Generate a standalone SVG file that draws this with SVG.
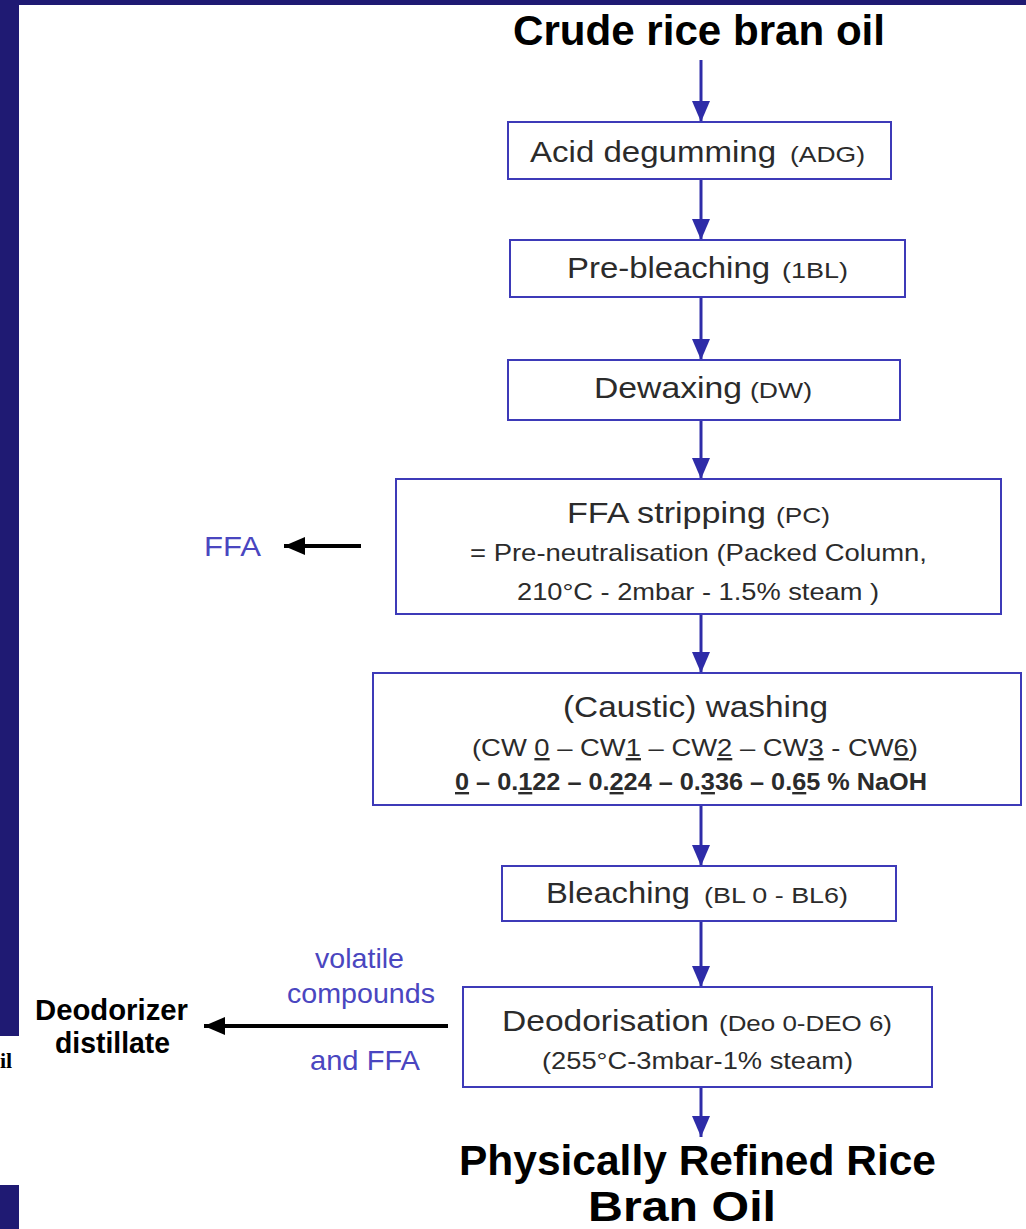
<svg xmlns="http://www.w3.org/2000/svg" width="1026" height="1229" viewBox="0 0 1026 1229">
  <defs>
    <marker id="headBlue" markerUnits="userSpaceOnUse" markerWidth="22" markerHeight="20" refX="21" refY="9" orient="auto">
      <path d="M0,0 L21,9 L0,18 Z" fill="#2e2ca8"/>
    </marker>
    <marker id="headBlack" markerUnits="userSpaceOnUse" markerWidth="22" markerHeight="20" refX="21" refY="9" orient="auto">
      <path d="M0,0 L21,9 L0,18 Z" fill="#000"/>
    </marker>
    <style>
      .box { fill: #fff; stroke: #3d3ab8; stroke-width: 2; }
      .flow { stroke: #2e2ca8; stroke-width: 3; fill: none; marker-end: url(#headBlue); }
      .side { stroke: #000; stroke-width: 4; fill: none; marker-end: url(#headBlack); }
      .t { font-family: "Liberation Sans", Arial, sans-serif; fill: #2b2b2b; }
      .main { font-size: 30px; }
      .sub { font-size: 22px; }
      .mid { font-size: 24px; }
      .head { font-family: "Liberation Sans", Arial, sans-serif; font-weight: bold; fill: #000; }
      .lbl { font-family: "Liberation Sans", Arial, sans-serif; fill: #4a46c0; font-size: 28px; }
      .frame { fill: #1f1a73; }
    </style>
  </defs>

  <!-- page background and frame bars -->
  <rect x="0" y="0" width="1026" height="1229" fill="#fff"/>
  <rect class="frame" x="0" y="0" width="1026" height="5"/>
  <rect class="frame" x="0" y="0" width="19" height="1036"/>
  <rect class="frame" x="0" y="1185" width="19" height="44"/>
  <text x="0" y="1068" font-family="Liberation Serif, serif" font-weight="bold" font-size="22" fill="#000">il</text>

  <!-- connectors -->
  <g id="connectors">
    <line class="flow" x1="701" y1="60" x2="701" y2="122"/>
    <line class="flow" x1="701" y1="179" x2="701" y2="240"/>
    <line class="flow" x1="701" y1="297" x2="701" y2="360"/>
    <line class="flow" x1="701" y1="420" x2="701" y2="479"/>
    <line class="flow" x1="701" y1="614" x2="701" y2="673"/>
    <line class="flow" x1="701" y1="805" x2="701" y2="866"/>
    <line class="flow" x1="701" y1="921" x2="701" y2="987"/>
    <line class="flow" x1="701" y1="1087" x2="701" y2="1137"/>
    <line class="side" x1="361" y1="546" x2="284" y2="546"/>
    <line class="side" x1="448" y1="1026" x2="204" y2="1026"/>
  </g>

  <!-- start product -->
  <g id="crude">
    <text class="head" x="513" y="45" font-size="42" textLength="372" lengthAdjust="spacingAndGlyphs">Crude rice bran oil</text>
  </g>

  <g id="adg">
    <rect class="box" x="508" y="122" width="383" height="57"/>
    <text class="t main" x="530" y="162" textLength="246" lengthAdjust="spacingAndGlyphs">Acid degumming</text>
    <text class="t sub" x="790" y="162" textLength="75" lengthAdjust="spacingAndGlyphs">(ADG)</text>
  </g>

  <g id="prebleach">
    <rect class="box" x="510" y="240" width="395" height="57"/>
    <text class="t main" x="567" y="278" textLength="203" lengthAdjust="spacingAndGlyphs">Pre-bleaching</text>
    <text class="t sub" x="782" y="278" textLength="66" lengthAdjust="spacingAndGlyphs">(1BL)</text>
  </g>

  <g id="dewax">
    <rect class="box" x="508" y="360" width="392" height="60"/>
    <text class="t main" x="594" y="398" textLength="148" lengthAdjust="spacingAndGlyphs">Dewaxing</text>
    <text class="t sub" x="750" y="398" textLength="62" lengthAdjust="spacingAndGlyphs">(DW)</text>
  </g>

  <g id="ffa-strip">
    <rect class="box" x="396" y="479" width="605" height="135"/>
    <text class="t main" x="567" y="523" textLength="199" lengthAdjust="spacingAndGlyphs">FFA stripping</text>
    <text class="t sub" x="776" y="523" textLength="54" lengthAdjust="spacingAndGlyphs">(PC)</text>
    <text class="t mid" x="470" y="561" textLength="457" lengthAdjust="spacingAndGlyphs">= Pre-neutralisation (Packed Column,</text>
    <text class="t mid" x="517" y="600" textLength="362" lengthAdjust="spacingAndGlyphs">210°C - 2mbar - 1.5% steam )</text>
  </g>

  <g id="ffa-out">
    <text class="lbl" x="204" y="556" textLength="57" lengthAdjust="spacingAndGlyphs">FFA</text>
  </g>

  <g id="caustic">
    <rect class="box" x="373" y="673" width="648" height="132"/>
    <text class="t main" x="563" y="717" textLength="265" lengthAdjust="spacingAndGlyphs">(Caustic) washing</text>
    <text class="t mid" x="472" y="756" textLength="446" lengthAdjust="spacingAndGlyphs">(CW <tspan text-decoration="underline">0</tspan> – CW<tspan text-decoration="underline">1</tspan> – CW<tspan text-decoration="underline">2</tspan> – CW<tspan text-decoration="underline">3</tspan> - CW<tspan text-decoration="underline">6</tspan>)</text>
    <text class="t mid" x="455" y="790" font-weight="bold" fill="#1a1a1a" textLength="472" lengthAdjust="spacingAndGlyphs"><tspan text-decoration="underline">0</tspan> –  0.<tspan text-decoration="underline">1</tspan>22  – 0.<tspan text-decoration="underline">2</tspan>24 – 0.<tspan text-decoration="underline">3</tspan>36 – 0.<tspan text-decoration="underline">6</tspan>5 % NaOH</text>
  </g>

  <g id="bleach">
    <rect class="box" x="502" y="866" width="394" height="55"/>
    <text class="t main" x="546" y="903" textLength="144" lengthAdjust="spacingAndGlyphs">Bleaching</text>
    <text class="t sub" x="704" y="903" textLength="144" lengthAdjust="spacingAndGlyphs">(BL 0 - BL6)</text>
  </g>

  <g id="deo">
    <rect class="box" x="463" y="987" width="469" height="100"/>
    <text class="t main" x="502" y="1031" textLength="207" lengthAdjust="spacingAndGlyphs">Deodorisation</text>
    <text class="t sub" x="719" y="1031" textLength="173" lengthAdjust="spacingAndGlyphs">(Deo 0-DEO 6)</text>
    <text class="t mid" x="542" y="1069" textLength="311" lengthAdjust="spacingAndGlyphs">(255°C-3mbar-1% steam)</text>
  </g>

  <g id="volatiles">
    <text class="lbl" x="315" y="968" textLength="89" lengthAdjust="spacingAndGlyphs">volatile</text>
    <text class="lbl" x="287" y="1003" textLength="148" lengthAdjust="spacingAndGlyphs">compounds</text>
    <text class="lbl" x="310" y="1070" textLength="110" lengthAdjust="spacingAndGlyphs">and FFA</text>
  </g>

  <g id="distillate">
    <text class="head" x="35" y="1020" font-size="29" textLength="153" lengthAdjust="spacingAndGlyphs">Deodorizer</text>
    <text class="head" x="55" y="1053" font-size="29" textLength="115" lengthAdjust="spacingAndGlyphs">distillate</text>
  </g>

  <g id="refined">
    <text class="head" x="459" y="1175" font-size="42" textLength="477" lengthAdjust="spacingAndGlyphs">Physically Refined Rice</text>
    <text class="head" x="588" y="1221" font-size="42" textLength="188" lengthAdjust="spacingAndGlyphs">Bran Oil</text>
  </g>
</svg>
